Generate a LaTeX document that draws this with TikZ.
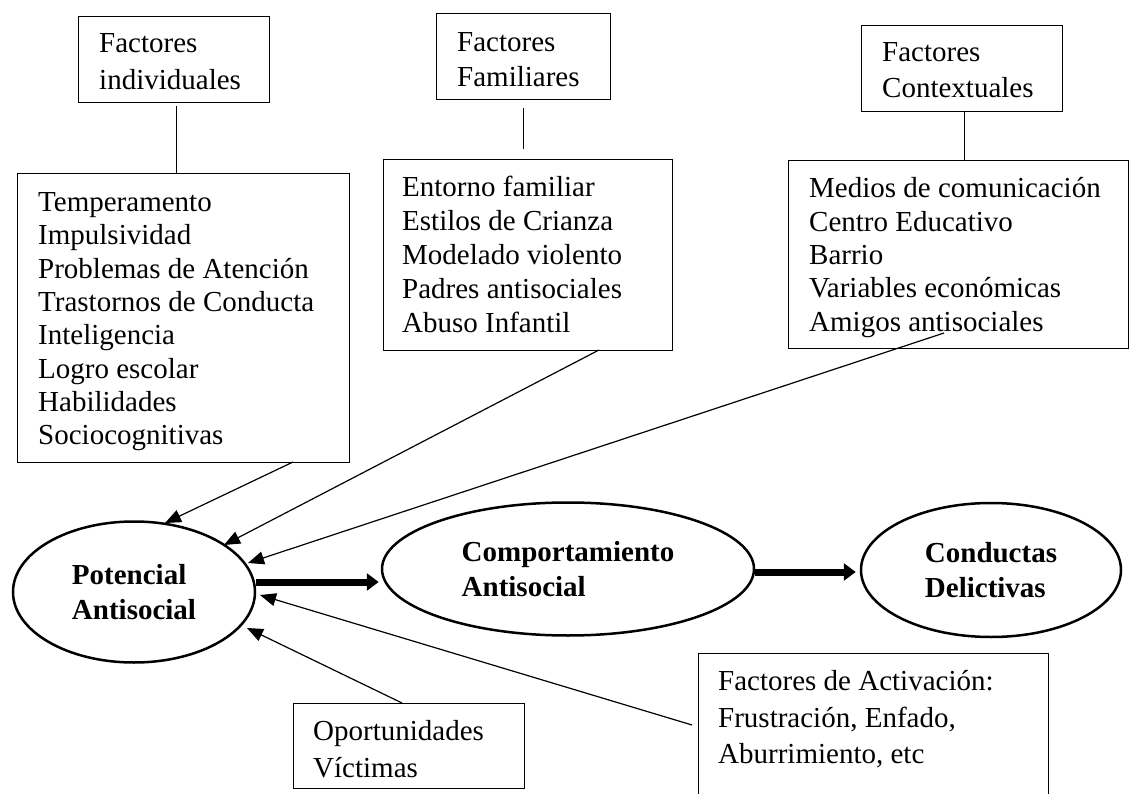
\documentclass[tikz,border=0pt]{standalone}
\usepackage{fontspec}
\setmainfont{Liberation Serif}
\usetikzlibrary{arrows.meta,shapes.geometric}
\begin{document}
\begin{tikzpicture}[x=1pt,y=-1pt,
  boxst/.style={draw, line width=1.3pt, rectangle, inner sep=0pt, anchor=north west},
  txt/.style={anchor=north west, inner sep=0pt, align=left, font=\fontsize{29}{#1}\selectfont},
  ell/.style={draw, line width=2.5pt, ellipse, inner sep=0pt, align=left, font=\fontsize{29}{35.5}\selectfont\bfseries},
  thinarrow/.style={line width=1.2pt, -{Triangle[length=16pt,width=13pt]}},
  thickarrow/.style={line width=7pt, -{Triangle[length=12pt,width=17pt]}},
  link/.style={line width=1.3pt}
]
\clip (0,0) rectangle (1130,794);
\path[use as bounding box] (0,0) rectangle (1130,794);

% header boxes
\node[boxst, minimum width=191pt, minimum height=86pt] (hInd) at (78,16) {};
\node[txt=37] (hIndT) at (99,33.5) {Factores\\individuales};
\node[boxst, minimum width=174pt, minimum height=86pt] (hFam) at (436,13) {};
\node[txt=35] (hFamT) at (457,32.5) {Factores\\Familiares};
\node[boxst, minimum width=201pt, minimum height=86pt] (hCon) at (861,25) {};
\node[txt=36] (hConT) at (882,42.5) {Factores\\Contextuales};

% list boxes
\node[boxst, minimum width=332pt, minimum height=289pt] (lInd) at (17,173) {};
\node[txt=33.3] (lIndT) at (38,192.5) {Temperamento\\Impulsividad\\Problemas de Atención\\Trastornos de Conducta\\Inteligencia\\Logro escolar\\Habilidades\\Sociocognitivas};
\node[boxst, minimum width=289pt, minimum height=191pt] (lFam) at (383,159) {};
\node[txt=34] (lFamT) at (402,175.5) {Entorno familiar\\Estilos de Crianza\\Modelado violento\\Padres antisociales\\Abuso Infantil};
\node[boxst, minimum width=340pt, minimum height=188pt] (lCon) at (788,160) {};
\node[txt=33.3] (lConT) at (809,177.5) {Medios de comunicación\\Centro Educativo\\Barrio\\Variables económicas\\Amigos antisociales};

% bottom boxes
\node[boxst, minimum width=350pt, minimum height=170pt] (act) at (698,653) {};
\node[txt=36.5] (actT) at (718,670.5) {Factores de Activación:\\Frustración, Enfado,\\Aburrimiento, etc};
\node[boxst, minimum width=231pt, minimum height=85pt] (opo) at (293,703) {};
\node[txt=37] (opoT) at (313,720.5) {Oportunidades\\Víctimas};

% ellipses
\node[ell, minimum width=242pt, minimum height=141pt] (P) at (134,592) {Potencial\\Antisocial};
\node[ell, minimum width=372pt, minimum height=133pt] (C) at (568,569) {Comportamiento\\Antisocial};
\node[ell, minimum width=260pt, minimum height=134pt] (D) at (991,570) {Conductas\\Delictivas};

% header links
\draw[link] ([shift={(2.5pt,-3pt)}]hInd.south) -- ([xshift=2.5pt]hInd.south |- lInd.north);
\draw[link] ([yshift=-8pt]hFam.south) -- ([yshift=10pt]hFam.south |- lFam.north);
\draw[link] ([xshift=2.5pt]hCon.south) -- ([xshift=2.5pt]hCon.south |- lCon.north);

% thin arrows into Potencial Antisocial
\coordinate (s1) at (293,462);  \coordinate (e1) at (165,523);
\coordinate (s2) at (599,350);  \coordinate (e2) at (224,545);
\coordinate (s3) at (944,333);  \coordinate (e3) at (248,563);
\coordinate (s4) at (692,725);  \coordinate (e4) at (260,595);
\coordinate (s5) at (402,703);  \coordinate (e5) at (247,628);
\draw[thinarrow] (s1) -- (e1);
\draw[thinarrow] (s2) -- (e2);
\draw[thinarrow] (s3) -- (e3);
\draw[thinarrow] (s4) -- (e4);
\draw[thinarrow] (s5) -- (e5);

% thick arrows
\draw[thickarrow] ([yshift=10pt]P.east) -- ([yshift=10pt,xshift=-2pt]P.east -| C.west);
\draw[thickarrow] ([yshift=-3pt]C.east) -- ([yshift=-3pt,xshift=-4pt]C.east -| D.west);
\end{tikzpicture}
\end{document}
